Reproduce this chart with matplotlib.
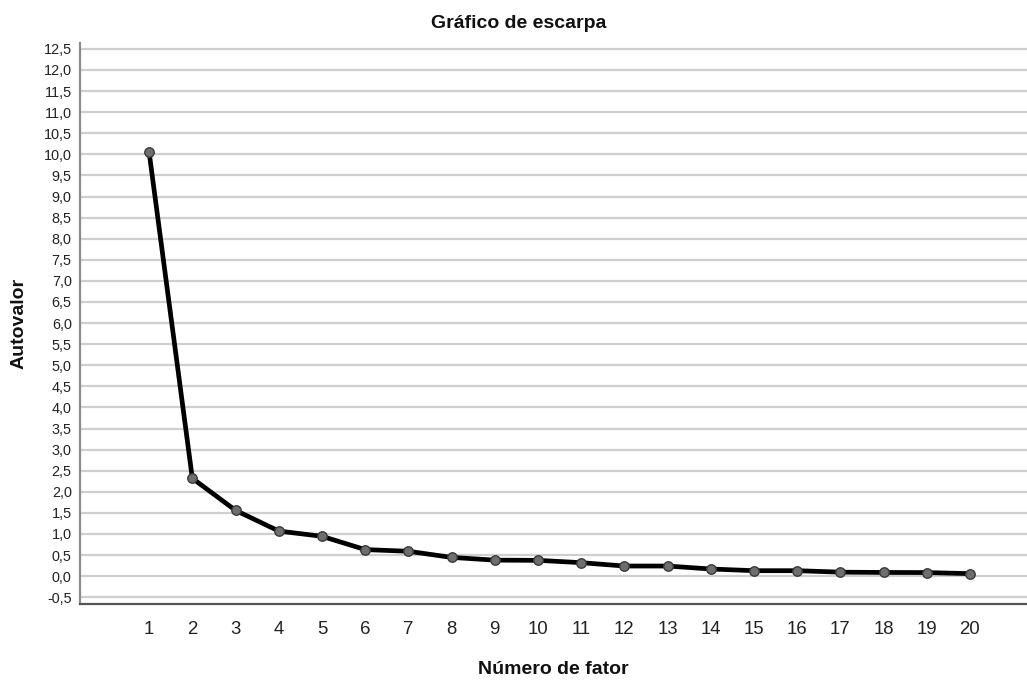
import numpy as np
import matplotlib
matplotlib.use("Agg")
import matplotlib.pyplot as plt
from matplotlib import font_manager as fm
from matplotlib.ticker import MultipleLocator, FuncFormatter

factors = list(range(1, 21))
eigenvalues = [10.05, 2.32, 1.56, 1.07, 0.945, 0.63, 0.59, 0.445, 0.38, 0.375,
               0.32, 0.24, 0.24, 0.17, 0.13, 0.13, 0.095, 0.088, 0.085, 0.06]

title = "Gráfico de escarpa"
xlabel = "Número de fator"
ylabel = "Autovalor"

# tick labels in the original use a narrow sans; fall back to regular if missing
try:
    fm.findfont("Liberation Sans Narrow", fallback_to_default=False)
    tick_font = "Liberation Sans Narrow"
    ysize, xsize = 11.5, 14.5
except ValueError:
    tick_font = "Liberation Sans"
    ysize, xsize = 10.4, 13.4

plt.rcParams['font.family'] = ['Liberation Sans', 'DejaVu Sans']

W, H = 1027, 681
fig = plt.figure(figsize=(W / 100, H / 100), dpi=100)
ax = fig.add_axes([80 / W, 1 - 604 / H, (W - 80) / W, (604 - 43) / H])

ax.plot(factors, eigenvalues, color="black", lw=3.4, solid_capstyle="round",
        solid_joinstyle="round", zorder=3,
        marker="o", markersize=6.8, markerfacecolor="#6e6e6e",
        markeredgecolor="#3a3a3a", markeredgewidth=1.0)

ax.set_xlim(-0.6, 21.32)
ax.set_ylim(-0.66, 12.64)
ax.set_xticks(factors)
ax.yaxis.set_major_locator(MultipleLocator(0.5))
ax.yaxis.set_major_formatter(FuncFormatter(lambda v, p: f"{v:.1f}".replace(".", ",")))

ax.grid(axis="y", color="#cfcfcf", lw=1.6, zorder=0)
ax.set_axisbelow(True)
for s in ("top", "right"):
    ax.spines[s].set_visible(False)
ax.spines["left"].set_color("#8c8c8c")
ax.spines["left"].set_linewidth(1.6)
ax.spines["bottom"].set_color("#555555")
ax.spines["bottom"].set_linewidth(1.6)

ax.tick_params(axis="y", length=0, pad=6, labelsize=ysize, labelcolor="#222222")
ax.tick_params(axis="x", length=0, pad=12, labelsize=xsize, labelcolor="#222222")
for lab in ax.get_xticklabels() + ax.get_yticklabels():
    lab.set_fontfamily([tick_font, 'DejaVu Sans'])

fig.text(519 / W, 1 - 24 / H, title, ha="center", va="center",
         fontsize=14, fontweight="bold", color="#111111")
fig.text(553 / W, 1 - 669 / H, xlabel, ha="center", va="center",
         fontsize=14, fontweight="bold", color="#111111")
fig.text(19 / W, 1 - 323 / H, ylabel, ha="center", va="center", rotation=90,
         fontsize=14, fontweight="bold", color="#111111")

fig.savefig("out.png", dpi=100)
